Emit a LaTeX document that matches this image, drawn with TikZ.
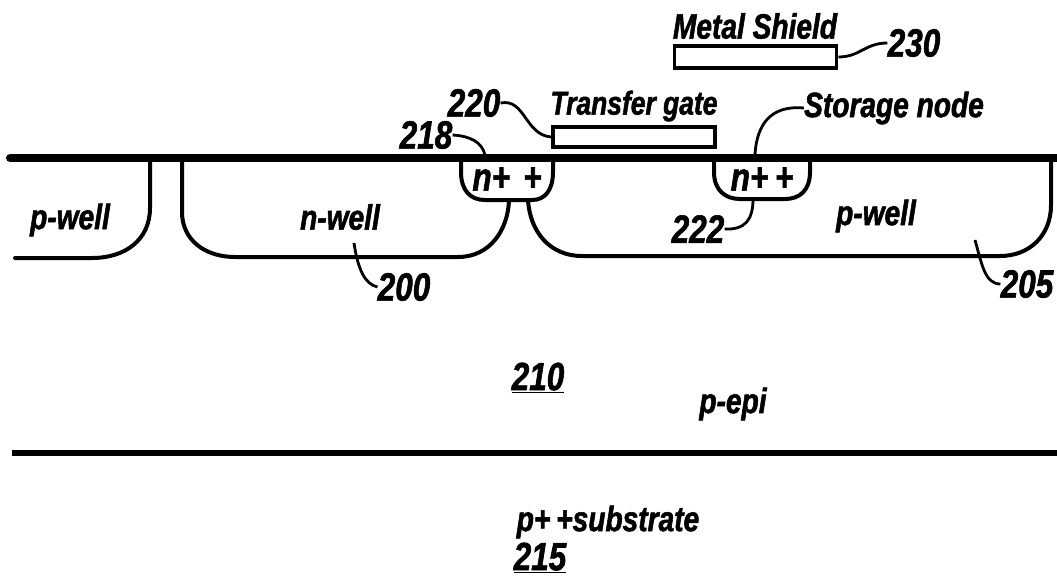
\documentclass[tikz,border=0pt]{standalone}
\usepackage{fontspec}
\newfontfamily\patentfont[FakeStretch=0.8,BoldItalicFeatures={FakeBold=1.5}]{Liberation Sans}
\tikzset{
	lbl/.style={inner sep=0pt, font=\patentfont\fontsize{25}{25}\selectfont\bfseries\itshape},
	numlbl/.style={inner sep=0pt, font=\patentfont\fontsize{28}{28}\selectfont\bfseries\itshape},
	gatebox/.style={draw, line width=0.9mm, inner sep=0pt, fill=white},
	wellline/.style={line width=1mm, line cap=round},
	surfaceline/.style={line width=2mm, line cap=round},
	leader/.style={line width=0.7mm}
}

\begin{document}
\begin{tikzpicture}[x=0.025cm, y=-0.025cm]
			%%%%% START %%%%%
			\useasboundingbox (0, 0) rectangle (1057, 580);
			
			\draw[surfaceline] (10, 158) -- (1057, 158);
			\draw[line width=1.4mm] (12, 453) -- (1057, 453);
			
			\draw[wellline] (150, 160) -- (150, 208) .. controls (150, 240) and (125, 258) .. (92, 258) -- (15, 258);
			\draw[wellline] (182, 160) -- (182, 212) .. controls (182, 240) and (205, 257) .. (235, 257) -- (458, 257) .. controls (490, 257) and (508, 230) .. (509, 200);
			\draw[wellline] (528, 200) .. controls (530, 232) and (550, 256) .. (582, 256) -- (1000, 256) .. controls (1030, 256) and (1051, 235) .. (1051, 205) -- (1051, 160);
			
			\draw[wellline] (461, 160) -- (461, 172) .. controls (461, 190) and (470, 200) .. (485, 200) -- (532, 200) .. controls (545, 200) and (553, 190) .. (553, 172) -- (553, 160);
			\draw[wellline] (714, 160) -- (714, 172) .. controls (714, 190) and (725, 199) .. (740, 199) -- (785, 199) .. controls (800, 199) and (810, 190) .. (810, 172) -- (810, 160);
			
			\node[gatebox, minimum width=4.05cm, minimum height=0.55cm] (shield) at (755.5, 57) {};
			\node[gatebox, minimum width=4.05cm, minimum height=0.5cm] (gate) at (634, 137) {};
			
			\node[lbl] (shieldtext) at (755, 26) {Metal Shield};
			\node[lbl, font=\patentfont\fontsize{23.5}{24}\selectfont\bfseries\itshape] (gatetext) at (634, 106) {Transfer gate};
			\node[lbl] (storagetext) at (894, 108) {Storage node};
			\node[numlbl] (lbl230) at (914, 43) {230};
			\node[numlbl] (lbl220) at (474, 103) {220};
			\node[numlbl] (lbl218) at (426, 135) {218};
			\node[numlbl] (lbl222) at (698, 229) {222};
			\node[numlbl] (lbl205) at (1027, 284) {205};
			\node[numlbl] (lbl200) at (404, 287) {200};
			
			\node[numlbl] (nleft) at (507, 179) {n+\,\,+};
			\node[numlbl] (nright) at (762, 179) {n+\,+};
			\node[lbl] (pwellleft) at (70, 220) {p-well};
			\node[lbl] (nwell) at (340, 217) {n-well};
			\node[lbl] (pwellright) at (876, 216) {p-well};
			\node[numlbl] (lbl210) at (538, 378) {\underline{210}};
			\node[lbl] (pepi) at (733, 404) {p-epi};
			\node[lbl] (substrate) at (608, 522) {p+\,+substrate};
			\node[numlbl] (lbl215) at (540, 558) {\underline{215}};
			
			\coordinate (end218) at (485, 155);
			\coordinate (endstorage) at (755, 154);
			\coordinate (end222) at (753, 199);
			\coordinate (end205) at (975, 240);
			\coordinate (end200) at (354, 243);
			
			\draw[leader] (lbl230.west) .. controls (865, 43) and (860, 57) .. (shield.east);
			\draw[leader] (lbl220.east) .. controls (525, 98) and (525, 135) .. (gate.west);
			\draw[leader] (lbl218.east) .. controls (470, 136) and (482, 142) .. (end218);
			\draw[leader] (storagetext.west) .. controls (770, 105) and (757, 125) .. (endstorage);
			\draw[leader] (lbl222.east) .. controls (745, 230) and (753, 220) .. (end222);
			\draw[leader] (lbl205.west) .. controls (985, 284) and (982, 265) .. (end205);
			\draw[leader] (lbl200.west) .. controls (365, 284) and (358, 270) .. (end200);
			%%%%% END %%%%%
		\end{tikzpicture}
\end{document}
